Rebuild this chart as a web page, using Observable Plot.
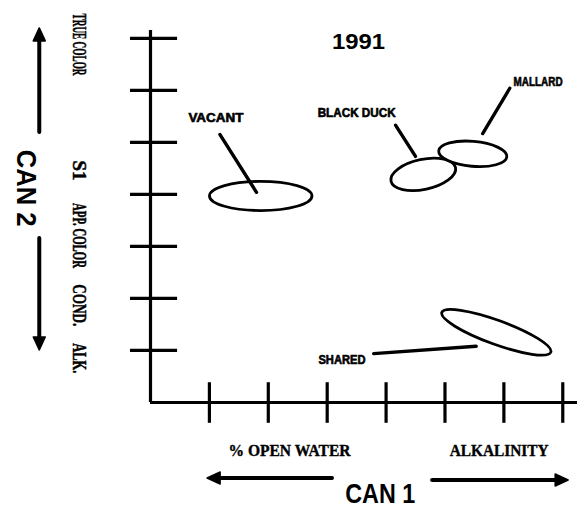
<!DOCTYPE html>
<html><head><meta charset="utf-8">
<script src="https://cdn.jsdelivr.net/npm/d3@7"></script>
<script src="https://cdn.jsdelivr.net/npm/@observablehq/plot@0.6"></script>
<style>body{margin:0;background:#fff}</style>
</head><body><div id="chart"></div>
<script>
// ---- data ----
const title = "1991";
const groups = ["VACANT", "BLACK DUCK", "MALLARD", "SHARED"];
const centerCan1 = [1.88, 4.64, 5.48, 5.88];
const centerCan2 = [3.96, 4.375, 4.77, 1.34];
const radiusCan1 = [0.87, 0.56, 0.58, 0.985];
const radiusCan2 = [0.28, 0.29, 0.24, 0.23];
const tiltDeg = [0, -12, 5, 20];
const labelCan1 = [1.11, 3.50, 6.58, 3.25];
const labelCan2 = [5.47, 5.57, 6.15, 0.81];
const leaderFromCan1 = [1.18, 4.16, 6.10, 3.79];
const leaderFromCan2 = [5.15, 5.33, 6.04, 0.94];
const leaderToCan1 = [1.80, 4.50, 5.64, 5.53];
const leaderToCan2 = [4.04, 4.73, 5.17, 1.08];
const can1Ticks = [1, 2, 3, 4, 5, 6, 7];
const can2Ticks = [1, 2, 3, 4, 5, 6, 7];
const can2Variables = ["TRUE COLOR", "S1", "APP. COLOR", "COND.", "ALK."];
const can2VariablePos = [6.88, 4.46, 3.21, 1.87, 0.85];
const can1Variables = ["% OPEN WATER", "ALKALINITY"];
const can1VariablePos = [2.36, 5.92];
const axisTitles = ["CAN 1", "CAN 2"];
// axis-direction arrows (from -> to), in CAN1 / CAN2 units
const arrowFromCan1 = [3.09, 4.79, -1.88, -1.88];
const arrowToCan1 = [0.97, 7.10, -1.88, -1.88];
const arrowFromCan2 = [-1.46, -1.50, 5.19, 3.15];
const arrowToCan2 = [-1.46, -1.50, 7.19, 1.0];

// ---- layout / style ----
const ink = "#000";
const textLengths = {
  "TRUE COLOR": 62, "S1": 20, "APP. COLOR": 65, "COND.": 42, "ALK.": 30,
  "% OPEN WATER": 122, "ALKALINITY": 99,
  "VACANT": 55, "BLACK DUCK": 78, "MALLARD": 49, "SHARED": 47,
  "CAN 1": 70, "CAN 2": 77, "1991": 53
};

function ellipseMark(index, scales) {
  const {x, y} = scales;
  const g = d3.create("svg:g")
    .attr("fill", "white").attr("stroke", ink).attr("stroke-width", 2.8);
  groups.forEach((name, i) => {
    const px = x(centerCan1[i]), py = y(centerCan2[i]);
    g.append("ellipse")
      .attr("cx", px).attr("cy", py)
      .attr("rx", x(centerCan1[i] + radiusCan1[i]) - px)
      .attr("ry", py - y(centerCan2[i] + radiusCan2[i]))
      .attr("transform", `rotate(${tiltDeg[i]},${px},${py})`);
  });
  return g.node();
}

function arrowMark(index, scales) {
  const {x, y} = scales;
  const g = d3.create("svg:g");
  const headLen = 13, headHalf = 6;
  arrowFromCan1.forEach((_, i) => {
    const x1 = x(arrowFromCan1[i]), y1 = y(arrowFromCan2[i]);
    const x2 = x(arrowToCan1[i]), y2 = y(arrowToCan2[i]);
    const L = Math.hypot(x2 - x1, y2 - y1), ux = (x2 - x1) / L, uy = (y2 - y1) / L;
    const bx = x2 - ux * headLen, by = y2 - uy * headLen;
    g.append("line").attr("x1", x1).attr("y1", y1).attr("x2", bx).attr("y2", by)
      .attr("stroke", ink).attr("stroke-width", 4).attr("stroke-linecap", "round");
    g.append("path")
      .attr("d", `M${x2},${y2}L${bx - uy * headHalf},${by + ux * headHalf}L${bx + uy * headHalf},${by - ux * headHalf}Z`)
      .attr("fill", ink).attr("stroke", ink).attr("stroke-width", 1.5).attr("stroke-linejoin", "round");
  });
  return g.node();
}

const idx = groups.map((_, i) => i);

const chart = Plot.plot({
  width: 580,
  height: 519,
  marginLeft: 150,
  marginRight: 3,
  marginTop: 30,
  marginBottom: 117,
  style: {background: "white", color: ink, overflow: "visible"},
  x: {domain: [0, 7.25], axis: null},
  y: {domain: [0, 7.15], axis: null},
  marks: [
    // axes
    Plot.ruleX([0], {stroke: ink, strokeWidth: 3.2}),
    Plot.ruleY([0], {stroke: ink, strokeWidth: 3.2}),
    Plot.ruleY(can2Ticks, {y: d => d, x1: -0.34, x2: 0.46, stroke: ink, strokeWidth: 3.2}),
    Plot.ruleX(can1Ticks, {x: d => d, y1: -0.40, y2: 0.38, stroke: ink, strokeWidth: 3.2}),
    // ellipses
    ellipseMark,
    // leaders
    Plot.link(idx, {
      x1: i => leaderFromCan1[i], y1: i => leaderFromCan2[i],
      x2: i => leaderToCan1[i], y2: i => leaderToCan2[i],
      stroke: ink, strokeWidth: 3.4, strokeLinecap: "round"
    }),
    // group labels
    Plot.text(idx, {
      x: i => labelCan1[i], y: i => labelCan2[i], text: i => groups[i],
      fontFamily: "Liberation Sans", fontWeight: "bold", fontSize: 12, fill: ink,
      stroke: ink, strokeWidth: 0.6
    }),
    // title
    Plot.text([title], {x: 3.53, y: 6.93, text: d => d,
      fontFamily: "Liberation Sans", fontWeight: "bold", fontSize: 22, fill: ink}),
    // CAN2 variable labels (rotated)
    Plot.text(can2Variables, {
      x: -1.22, y: (d, i) => can2VariablePos[i], text: d => d, rotate: 90,
      fontFamily: "Liberation Serif", fontWeight: "bold", fontSize: 18, fill: ink,
      stroke: ink, strokeWidth: 0.5
    }),
    // CAN1 variable labels
    Plot.text(can1Variables, {
      x: (d, i) => can1VariablePos[i], y: -0.93, text: d => d,
      fontFamily: "Liberation Serif", fontWeight: "bold", fontSize: 17, fill: ink,
      stroke: ink, strokeWidth: 0.4
    }),
    // axis titles
    Plot.text([axisTitles[0]], {x: 3.90, y: -1.77, text: d => d,
      fontFamily: "Liberation Sans", fontWeight: 600, fontSize: 27, fill: ink}),
    Plot.text([axisTitles[1]], {x: -2.12, y: 4.12, text: d => d, rotate: 90,
      fontFamily: "Liberation Sans", fontWeight: 600, fontSize: 27, fill: ink}),
    // direction arrows
    arrowMark
  ]
});

chart.querySelectorAll("text").forEach(t => {
  const len = textLengths[t.textContent];
  if (len) {
    t.setAttribute("textLength", len);
    t.setAttribute("lengthAdjust", "spacingAndGlyphs");
  }
});

document.getElementById("chart").appendChild(chart);
</script>
</body></html>
